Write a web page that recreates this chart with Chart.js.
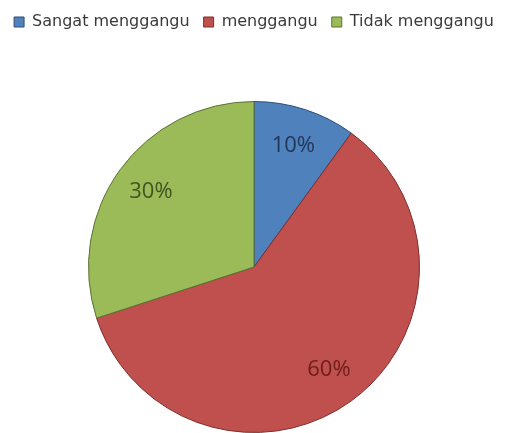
<!DOCTYPE html>
<html>
<head>
<meta charset="utf-8">
<script src="https://cdn.jsdelivr.net/npm/chart.js@4.4.0/dist/chart.umd.min.js"></script>
<style>
  html, body { margin: 0; padding: 0; background: #fff; }
  #wrap { width: 508px; height: 433px; }
</style>
</head>
<body>
<div id="wrap"><canvas id="pieChart"></canvas></div>
<script>
// data
const categories = ['Sangat menggangu', 'menggangu', 'Tidak menggangu'];
const values = [10, 60, 30];

// styles
const fillColors = ['#4F81BD', '#C0504D', '#9BBB59'];
const edgeColors = ['#2F4F75', '#7A2F2D', '#5C7234'];
const labelColors = ['#1F3657', '#6B1E1C', '#3F5420'];

// make the legend block as tall as in the original
const legendSpace = {
  id: 'legendSpace',
  beforeInit(chart) {
    const legend = chart.legend;
    if (!legend) return;
    const origFit = legend.fit;
    legend.fit = function() {
      origFit.call(this);
      this.height = 101;
    };
  }
};

// percentage labels inside slices
const sliceLabels = {
  id: 'sliceLabels',
  afterDatasetsDraw(chart) {
    const ctx = chart.ctx;
    const total = values.reduce((a, b) => a + b, 0);
    const meta = chart.getDatasetMeta(0);
    ctx.save();
    ctx.font = '22px "Open Sans", sans-serif';
    ctx.textAlign = 'center';
    ctx.textBaseline = 'middle';
    meta.data.forEach((arc, i) => {
      const p = arc.getProps(['x', 'y', 'startAngle', 'endAngle', 'outerRadius']);
      const mid = (p.startAngle + p.endAngle) / 2;
      const r = p.outerRadius * 0.77;
      ctx.fillStyle = labelColors[i];
      const pct = Math.round(values[i] / total * 100) + '%';
      ctx.fillText(pct, p.x + Math.cos(mid) * r, p.y + Math.sin(mid) * r);
    });
    ctx.restore();
  }
};

new Chart(document.getElementById('pieChart'), {
  type: 'pie',
  data: {
    labels: categories,
    datasets: [{
      data: values,
      backgroundColor: fillColors,
      borderColor: edgeColors,
      borderWidth: 1,
      hoverOffset: 0
    }]
  },
  options: {
    responsive: true,
    maintainAspectRatio: false,
    animation: false,
    layout: { padding: 0 },
    plugins: {
      legend: {
        position: 'top',
        labels: {
          boxWidth: 10,
          boxHeight: 10,
          padding: 14,
          color: '#3a3a3a',
          font: { family: '"DejaVu Sans", sans-serif', size: 16 }
        }
      },
      tooltip: { enabled: false }
    }
  },
  plugins: [legendSpace, sliceLabels]
});
</script>
</body>
</html>
